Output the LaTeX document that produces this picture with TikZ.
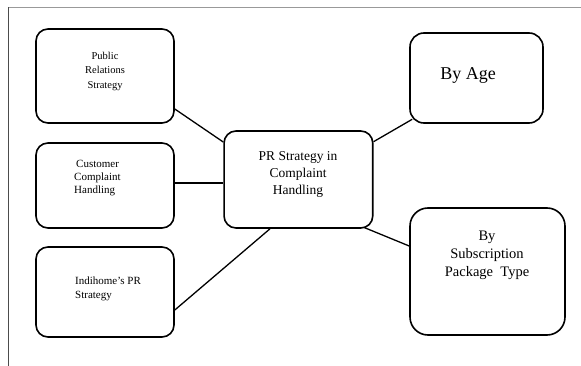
\documentclass[tikz,border=0pt]{standalone}
\usepackage{fontspec}
\setmainfont{Liberation Serif}
\usepackage{tikz}
\usetikzlibrary{positioning}

\begin{document}
\begin{tikzpicture}[x=1pt, y=-1pt,
  box/.style = {draw, shape = rectangle, rounded corners = 12pt, line width = 1.6pt, inner sep = 0pt},
  txt/.style = {inner sep = 0pt, align = center},
  link/.style = {line width = 1.3pt}]
\useasboundingbox (0,0) rectangle (581,366);
% frame
\draw[gray!80, line width = 1pt] (8,7.3) -- (581,7.3);
\draw[black!70, line width = 0.8pt] (8,7.3) -- (8,366);
% boxes
\node[box, minimum width = 138pt, minimum height = 94pt] (1) at (105,76) {};
\node[box, minimum width = 138pt, minimum height = 85pt] (2) at (105,185.5) {};
\node[box, minimum width = 138pt, minimum height = 90pt] (3) at (105,292) {};
\node[box, minimum width = 148.7pt, minimum height = 97pt] (4) at (298.4,179.5) {};
\node[box, minimum width = 133pt, minimum height = 90pt, rounded corners = 14pt] (5) at (476.5,78) {};
\node[box, minimum width = 155pt, minimum height = 127pt, rounded corners = 18pt] (6) at (487.5,271.5) {};
% texts
\node[txt, font = \fontsize{10.5}{14.5}\selectfont] (11) at (105,71) {Public\\Relations\\Strategy};
\node[txt, align = left, anchor = west, font = \fontsize{11}{13}\selectfont] (21) at (74,178) {\hspace{2pt}Customer\\Complaint\\Handling};
\node[txt, align = left, anchor = west, font = \fontsize{11}{13.5}\selectfont] (31) at (75,289) {Indihome’s PR\\Strategy};
\node[txt, font = \fontsize{13.5}{17}\selectfont] (41) at (298,174) {PR Strategy in\\Complaint\\Handling};
\node[txt, font = \fontsize{18}{20}\selectfont] (51) at (468,76) {By Age};
\node[txt, font = \fontsize{14.5}{18}\selectfont] (61) at (487,255) {By\\Subscription\\Package\ \ Type};
% connectors
\draw[link] ([yshift=-33pt]1.east) -- ([yshift=37.5pt]4.west);
\draw[link] ([yshift=2.5pt]2.east) -- ([yshift=-3.5pt]4.west);
\draw[link] ([yshift=-18pt]3.east) -- ([xshift=-28.4pt]4.south);
\draw[link] ([yshift=37.8pt]4.east) -- ([shift={(3pt,4.5pt)}]5.south west);
\draw[link] ([shift={(-9.4pt,1.3pt)}]4.south east) -- ([yshift=25.5pt]6.west);
\end{tikzpicture}
\end{document}
